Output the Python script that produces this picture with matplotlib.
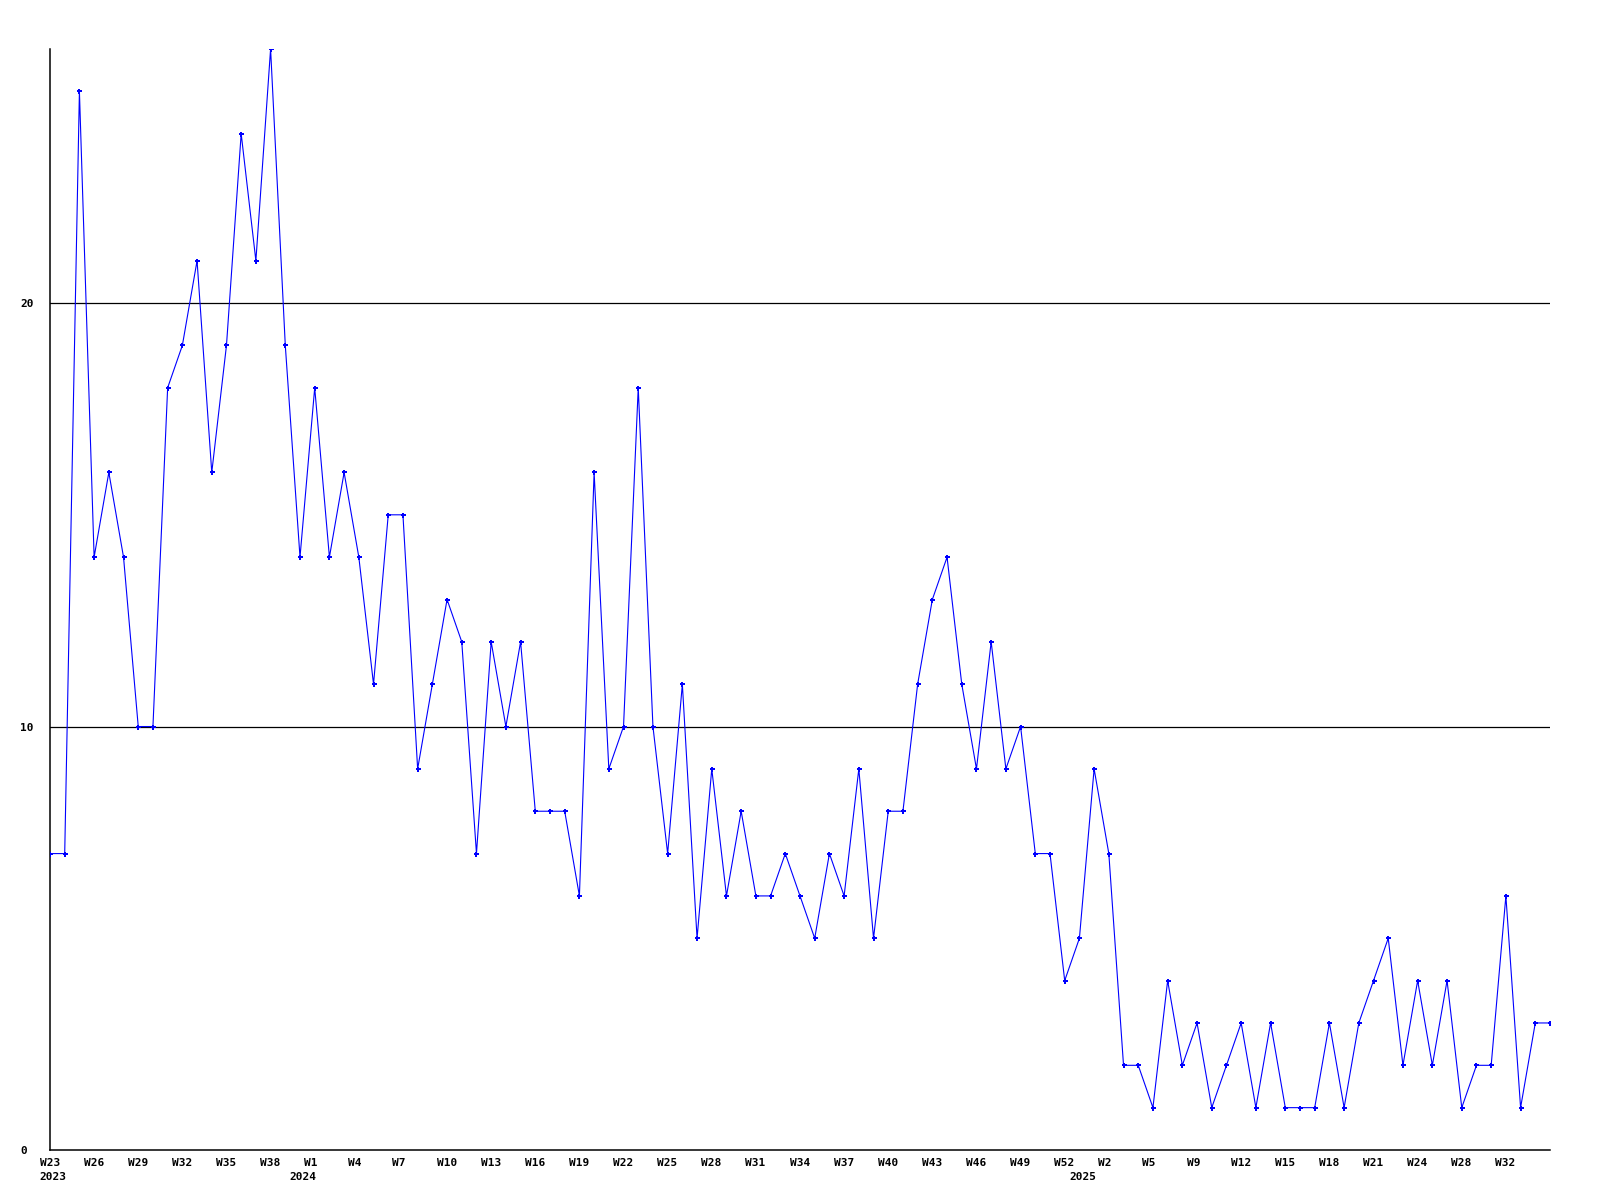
import matplotlib
matplotlib.use("Agg")
import matplotlib.pyplot as plt
import matplotlib.transforms as mtransforms

values = [7, 7, 25, 14, 16, 14, 10, 10, 18, 19,
          21, 16, 19, 24, 21, 26, 19, 14, 18, 14,
          16, 14, 11, 15, 15, 9, 11, 13, 12, 7,
          12, 10, 12, 8, 8, 8, 6, 16, 9, 10,
          18, 10, 7, 11, 5, 9, 6, 8, 6, 6,
          7, 6, 5, 7, 6, 9, 5, 8, 8, 11,
          13, 14, 11, 9, 12, 9, 10, 7, 7, 4,
          5, 9, 7, 2, 2, 1, 4, 2, 3, 1,
          2, 3, 1, 3, 1, 1, 1, 3, 1, 3,
          4, 5, 2, 4, 2, 4, 1, 2, 2, 6,
          1, 3, 3]

week_labels = ["W23", "W26", "W29", "W32", "W35", "W38", "W1", "W4", "W7", "W10",
               "W13", "W16", "W19", "W22", "W25", "W28", "W31", "W34", "W37", "W40",
               "W43", "W46", "W49", "W52", "W2", "W5", "W9", "W12", "W15", "W18",
               "W21", "W24", "W28", "W32"]
year_labels = ["2023", "2024", "2025"]
year_positions = [0, 17, 70]
y_ticks = [0, 10, 20]

W, H = 1600, 1200
fig = plt.figure(figsize=(16, 12), dpi=100)
ax = fig.add_axes([50 / W, 50 / H, 1500 / W, (1150 - 49) / H])

x = list(range(len(values)))
ax.plot(x, values, color="#0000ff", linewidth=0.8, marker="P", markersize=3.6,
        markeredgewidth=0, zorder=3)

ax.set_xlim(0, len(values) - 1)
ax.set_ylim(0, 26)

for v in y_ticks[1:]:
    ax.axhline(v, color="black", linewidth=0.9, zorder=2)

for s in ["top", "right"]:
    ax.spines[s].set_visible(False)
for s in ["left", "bottom"]:
    ax.spines[s].set_color("black")
    ax.spines[s].set_linewidth(1.1)

font = dict(family="DejaVu Sans Mono", weight="bold", size=8)

ax.set_yticks(y_ticks)
ax.set_yticklabels([str(v) for v in y_ticks], **font)
ax.tick_params(axis="y", length=0, pad=21.6)
for lbl in ax.get_yticklabels():
    lbl.set_horizontalalignment("left")

tick_pos = list(range(0, 3 * len(week_labels), 3))
ax.set_xticks(tick_pos)
ax.set_xticklabels(week_labels, **font)
ax.tick_params(axis="x", length=0, pad=6)
offset = mtransforms.ScaledTranslation(-10.5 / 100, 0, fig.dpi_scale_trans)
for lbl in ax.get_xticklabels():
    lbl.set_horizontalalignment("left")
    lbl.set_transform(lbl.get_transform() + offset)

trans = mtransforms.blended_transform_factory(ax.transData, fig.transFigure)
for pos, yl in zip(year_positions, year_labels):
    ax.text(pos, (H - 1177) / H, yl, transform=trans + offset,
            ha="left", va="center", clip_on=False, **font)

fig.savefig("out.png", dpi=100, facecolor="white")
